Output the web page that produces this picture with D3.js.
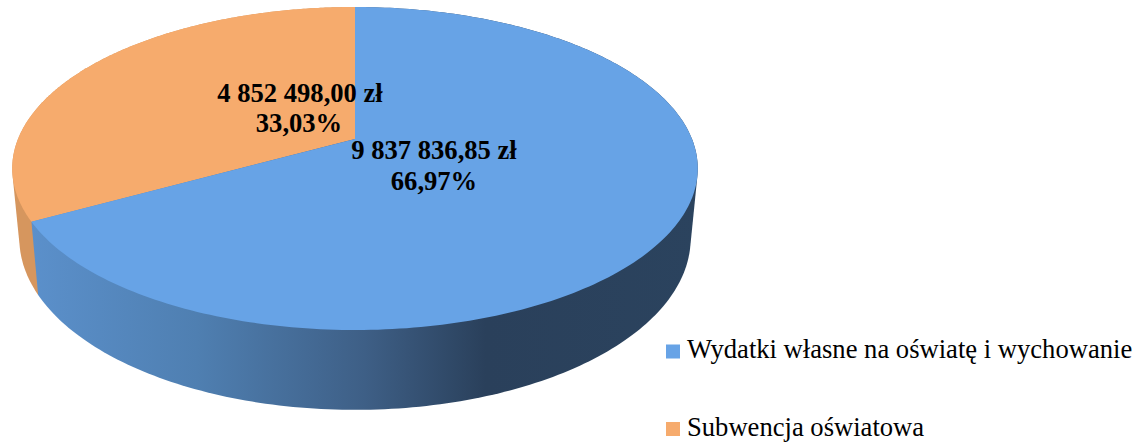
<!DOCTYPE html>
<html lang="pl">
<head>
<meta charset="utf-8">
<script src="https://cdn.jsdelivr.net/npm/d3@7/dist/d3.min.js"></script>
<style>
html,body{margin:0;padding:0;background:#fff;overflow:hidden}
svg{display:block}
text{font-family:"Liberation Serif","Times New Roman",serif;fill:#000}
</style>
</head>
<body>
<svg id="c" width="1142" height="444"></svg>
<script>
const categories = ["Wydatki własne na oświatę i wychowanie", "Subwencja oświatowa"];
const values = [9837836.85, 4852498.00];
const valueLabels = ["9 837 836,85 zł", "4 852 498,00 zł"];
const percentLabels = ["66,97%", "33,03%"];
const topColors = ["#67a3e6", "#f6ab6d"];
const sideColors = ["#5a91ce", "#d6965e"];

const svg = d3.select("#c");
const pie = d3.pie().sort(null).value(d => d)(values);

// A tilted disc: homography of the unit circle around an off-centre apex
const C = 0.1827;
const topRim = {x: 355, y: 139, D: 337, A: 156.1};
const botRim = {x: 355, y: 207, D: 330, A: 165.8};
const project = (rim, a, r = 1) => {
  const u = Math.sin(a) * r, v = Math.cos(a) * r, w = 1 + C * v;
  return [rim.x + rim.D * u / w, rim.y - rim.A * v / w];
};
const samples = (d) => d3.range(0, 241).map(i => d.startAngle + (d.endAngle - d.startAngle) * i / 240);

const defs = svg.append("defs");
const grad = defs.append("linearGradient").attr("id", "sideBlue")
  .attr("gradientUnits", "userSpaceOnUse").attr("x1", 30).attr("x2", 700).attr("y1", 0).attr("y2", 0);
[[0, "#5b90cb"], [0.25, "#4f7fb1"], [0.5, "#3e5f86"], [0.68, "#2a405b"], [1, "#2b435e"]]
  .forEach(([o, c]) => grad.append("stop").attr("offset", o).attr("stop-color", c));

const sideFill = ["url(#sideBlue)", sideColors[1]];
// sides: the second slice first, then the first over it
[1, 0].forEach(i => {
  const pts = samples(pie[i]).flatMap(a => [project(topRim, a), project(botRim, a)]);
  svg.append("path").attr("d", "M" + d3.polygonHull(pts).join("L") + "Z").attr("fill", sideFill[i]);
});
// top faces
[1, 0].forEach(i => {
  const pts = samples(pie[i]).map(a => project(topRim, a));
  svg.append("path").attr("d", "M" + [[topRim.x, topRim.y], ...pts].join("L") + "Z").attr("fill", topColors[i]);
});

// data labels
const labelPos = [[434, 159, 190], [300, 102, 132]];
valueLabels.forEach((t, i) => {
  const g = svg.append("g").attr("font-weight", "bold").attr("font-size", 26.6).attr("text-anchor", "middle");
  g.append("text").attr("x", labelPos[i][0]).attr("y", labelPos[i][1]).text(t);
  g.append("text").attr("x", labelPos[i][0] - (i ? 1 : 0)).attr("y", labelPos[i][2]).text(percentLabels[i]);
});

// legend
const legendY = d3.scalePoint().domain(categories).range([351.5, 429]);
categories.forEach((c, i) => {
  svg.append("rect").attr("x", 666).attr("y", legendY(c) - 7).attr("width", 14).attr("height", 14).attr("fill", topColors[i]);
  svg.append("text").attr("x", 687).attr("y", legendY(c) + 6.5).attr("font-size", 26.6).text(c);
});
</script>
</body>
</html>
